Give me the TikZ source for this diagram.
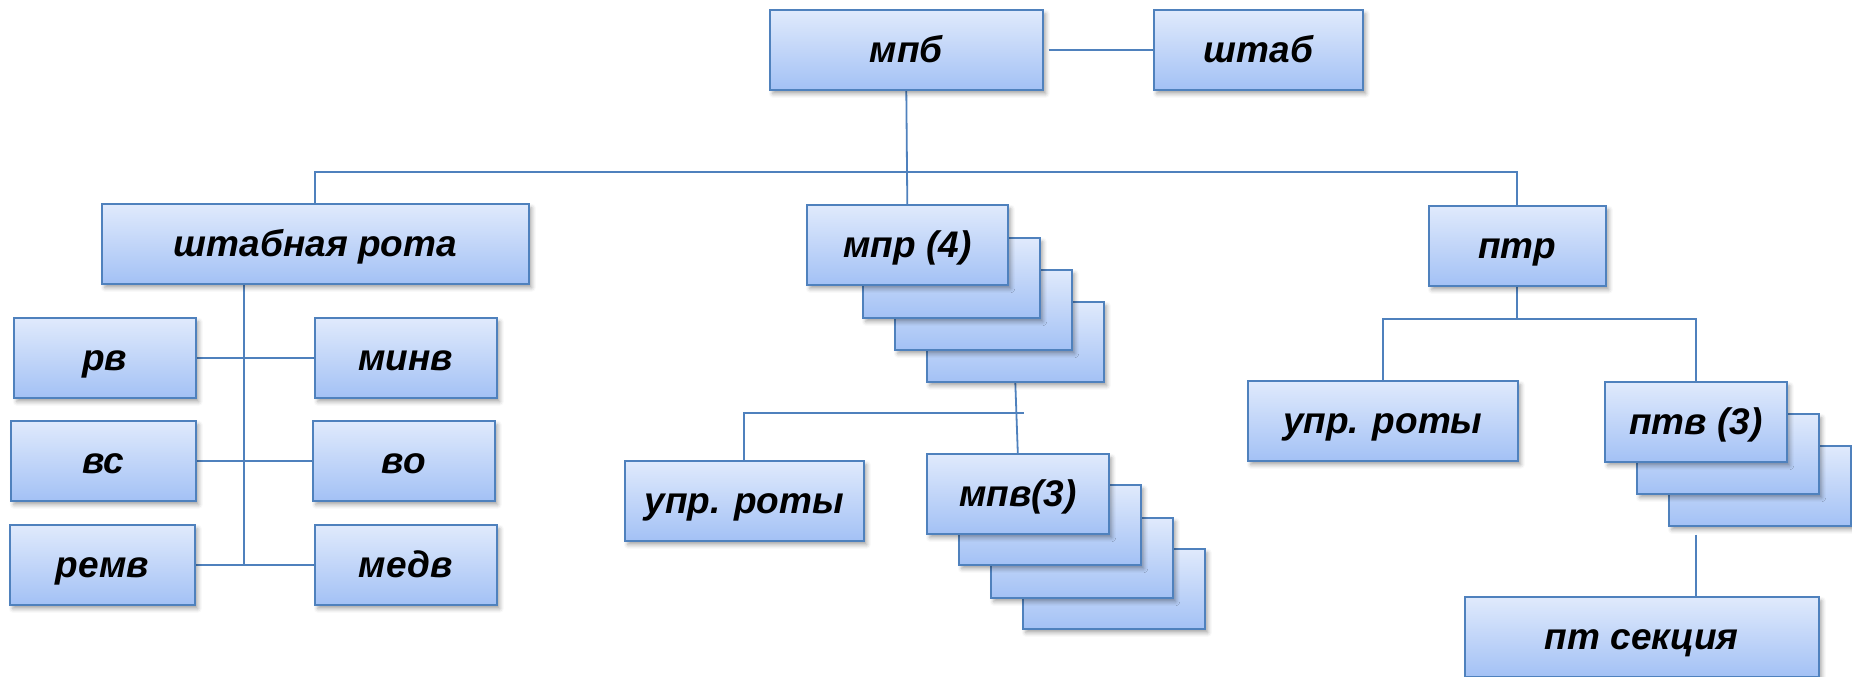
\documentclass[tikz,border=0pt]{standalone}
\usepackage{fontspec}
\setmainfont{Liberation Sans}
\usetikzlibrary{shadows.blur,calc}
\definecolor{edgeblue}{HTML}{4F81BD}
\definecolor{gtop}{HTML}{E0EAFC}
\definecolor{gbot}{HTML}{A3C1F5}
\pgfdeclarelayer{background}
\pgfsetlayers{background,main}
\tikzset{
  orgbox/.style={draw=edgeblue, line width=1.6pt, top color=gtop, bottom color=gbot,
    anchor=north west, minimum height=80pt, inner sep=0pt, text=black,
    text height=26pt, text depth=0pt,
    font=\fontsize{37}{40}\selectfont\bfseries\itshape,
    blur shadow={shadow xshift=3pt, shadow yshift=-4pt, shadow blur radius=4pt, shadow opacity=35}},
  link/.style={draw=edgeblue, line width=1.8pt},
}
\begin{document}
\begin{tikzpicture}[x=1pt,y=-1pt]
\useasboundingbox (0,0) rectangle (1852,677);
% top
\node[orgbox, minimum width=273pt] (mpb) at (769,9) {мпб};
\node[orgbox, minimum width=209pt] (shtab) at (1153,9) {штаб};
% second level
\node[orgbox, minimum width=427pt] (shtr) at (101,203) {штабная рота};
\node[orgbox, minimum width=177pt] (mpr4) at (926,301) {};
\node[orgbox, minimum width=177pt] (mpr3) at (894,269) {};
\node[orgbox, minimum width=177pt] (mpr2) at (862,237) {};
\node[orgbox, minimum width=201pt] (mpr) at (806,204) {мпр (4)};
\node[orgbox, minimum width=177pt] (ptr) at (1428,205) {птр};
% left column
\node[orgbox, minimum width=182pt] (rv) at (13,317) {рв};
\node[orgbox, minimum width=182pt] (minv) at (314,317) {минв};
\node[orgbox, minimum width=185pt] (vs) at (10,420) {вс};
\node[orgbox, minimum width=182pt] (vo) at (312,420) {во};
\node[orgbox, minimum width=185pt] (remv) at (9,524) {ремв};
\node[orgbox, minimum width=182pt] (medv) at (314,524) {медв};
% middle
\node[orgbox, minimum width=239pt] (upr1) at (624,460) {упр. роты};
\node[orgbox, minimum width=182pt] (mpv4) at (1022,548) {};
\node[orgbox, minimum width=182pt] (mpv3) at (990,517) {};
\node[orgbox, minimum width=182pt] (mpv2) at (958,484) {};
\node[orgbox, minimum width=182pt] (mpv) at (926,453) {мпв(3)};
% right
\node[orgbox, minimum width=270pt] (upr2) at (1247,380) {упр. роты};
\node[orgbox, minimum width=182pt] (ptv3) at (1668,445) {};
\node[orgbox, minimum width=182pt] (ptv2) at (1636,413) {};
\node[orgbox, minimum width=182pt] (ptv) at (1604,381) {птв (3)};
\node[orgbox, minimum width=354pt] (ptsec) at (1464,596) {пт секция};

\begin{pgfonlayer}{background}
\draw[link] ([xshift=5pt]mpb.east) -- (shtab.west);
\draw[link] (mpb.south) -- (mpr.north);
\draw[link] (shtr.north) -- ++(0,-31) -| (ptr.north);
\coordinate (lcol) at ($(shtr.south)+(-71,0)$);
\draw[link] (lcol) -- (lcol |- remv.east);
\draw[link] (rv.east) -- (minv.west);
\draw[link] (vs.east) -- (vo.west);
\draw[link] (remv.east) -- (medv.west);
\draw[link] (mpr4.south) -- (mpv.north);
\coordinate (mbus) at ($(mpv.north)+(6,-40)$);
\draw[link] (upr1.north) |- (mbus);
\coordinate (pbus) at ($(ptr.south)+(0,32)$);
\draw[link] (ptr.south) -- (pbus);
\draw[link] (upr2.north) |- (pbus) -| (ptv.north);
\coordinate (ptvlow) at ($(ptv.center |- ptv3.south)+(0,8)$);
\draw[link] (ptvlow) -- (ptvlow |- ptsec.north);
\end{pgfonlayer}
\end{tikzpicture}
\end{document}
